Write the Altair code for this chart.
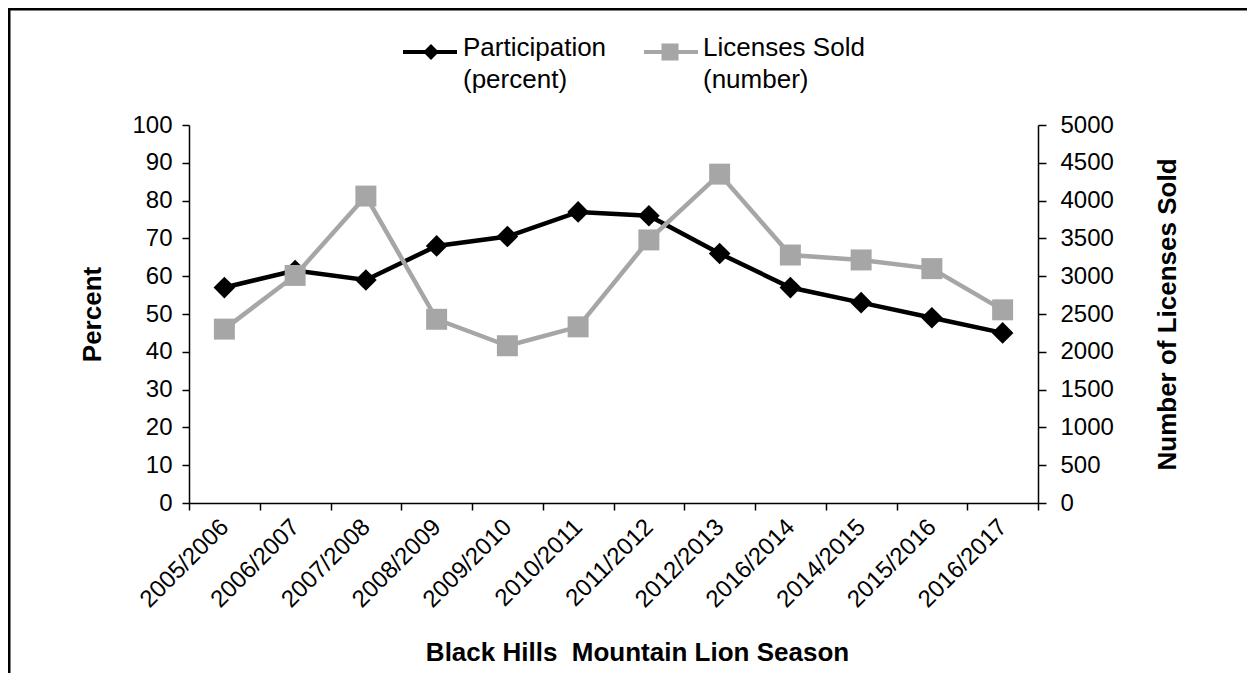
import altair as alt
import pandas as pd

seasons = ["2005/2006", "2006/2007", "2007/2008", "2008/2009", "2009/2010", "2010/2011",
           "2011/2012", "2012/2013", "2016/2014", "2014/2015", "2015/2016", "2016/2017"]
participation = [57, 61.5, 59, 68, 70.5, 77, 76, 66, 57, 53, 49, 45]
licenses = [2300, 3010, 4060, 2430, 2080, 2330, 3480, 4350, 3280, 3215, 3100, 2555]
legend_labels = ["Participation\n(percent)", "Licenses Sold\n(number)"]
pct_ticks = list(range(0, 101, 10))
lic_ticks = list(range(0, 5001, 500))
x_title = "Black Hills\u00a0 Mountain Lion Season"

df = pd.DataFrame({"season": seasons, "participation": participation, "licenses": licenses})

FONT = "Liberation Sans"
W, H = 849, 378
LBL = 24
XLBL = 24
TTL = 26
BLACK = "#000000"
GRAY = "#A6A6A6"

x_enc = alt.X(
    "season:N", sort=seasons, bandPosition=0.5,
    scale=alt.Scale(type="band", paddingInner=0, paddingOuter=0),
    axis=alt.Axis(title=x_title, labelAngle=-45, labelAlign="right",
                  labelBaseline="middle", tickBand="extent", tickSize=7, labelPadding=13,
                  labelFontSize=XLBL, titleFontSize=TTL, titleFontWeight="bold",
                  titleX=448, titleY=149, titleBaseline="middle", titleAlign="center",
                  labelOverlap=False),
)

part = alt.Chart(df).mark_line(
    color=BLACK, strokeWidth=4.5,
    point=alt.OverlayMarkDef(shape="diamond", size=470, filled=True, color=BLACK, opacity=1),
).encode(
    x=x_enc,
    y=alt.Y("participation:Q", scale=alt.Scale(domain=[0, 100], nice=False),
            axis=alt.Axis(orient="left", values=pct_ticks, title="Percent", tickSize=7,
                          labelPadding=10, labelFontSize=LBL, titleFontSize=TTL,
                          titleFontWeight="bold", titleAngle=270, titleX=-97, titleY=H / 2,
                          titleBaseline="middle", titleAlign="center")),
)

lic = alt.Chart(df).mark_line(
    color=GRAY, strokeWidth=4.5,
    point=alt.OverlayMarkDef(shape="square", size=440, filled=True, color=GRAY, opacity=1),
).encode(
    x=x_enc,
    y=alt.Y("licenses:Q", scale=alt.Scale(domain=[0, 5000], nice=False),
            axis=alt.Axis(orient="right", values=lic_ticks, format="d",
                          title="Number of Licenses Sold", tickSize=8, labelPadding=14,
                          labelFontSize=LBL, titleFontSize=TTL, titleFontWeight="bold",
                          titleAngle=270, titleX=129, titleY=H / 2,
                          titleBaseline="middle", titleAlign="center")),
)

one = alt.Data(values=[{"k": 1}])

frame_top = alt.Chart(one).mark_rule(color=BLACK, strokeWidth=3).encode(
    x=alt.value(-182), x2=alt.value(1070), y=alt.value(-116))
frame_left = alt.Chart(one).mark_rule(color=BLACK, strokeWidth=3).encode(
    x=alt.value(-180), y=alt.value(-118), y2=alt.value(570))

leg1_line = alt.Chart(one).mark_rule(color=BLACK, strokeWidth=4).encode(
    x=alt.value(214), x2=alt.value(268), y=alt.value(-73))
leg1_pt = alt.Chart(one).mark_point(shape="diamond", size=250, filled=True, color=BLACK, opacity=1).encode(
    x=alt.value(242), y=alt.value(-73))
leg1_txt = alt.Chart(alt.Data(values=[{"t": legend_labels[0]}])).mark_text(
    align="left", baseline="alphabetic", lineBreak="\n", lineHeight=32,
    font=FONT, fontSize=26, color=BLACK).encode(
    text="t:N", x=alt.value(274), y=alt.value(-69))

leg2_line = alt.Chart(one).mark_rule(color=GRAY, strokeWidth=4).encode(
    x=alt.value(455), x2=alt.value(509), y=alt.value(-73))
leg2_pt = alt.Chart(one).mark_point(shape="square", size=290, filled=True, color=GRAY, opacity=1).encode(
    x=alt.value(481), y=alt.value(-73))
leg2_txt = alt.Chart(alt.Data(values=[{"t": legend_labels[1]}])).mark_text(
    align="left", baseline="alphabetic", lineBreak="\n", lineHeight=32,
    font=FONT, fontSize=26, color=BLACK).encode(
    text="t:N", x=alt.value(514), y=alt.value(-69))

chart = alt.layer(
    frame_top, frame_left, part, lic,
    leg1_line, leg1_pt, leg1_txt, leg2_line, leg2_pt, leg2_txt,
).resolve_scale(y="independent").properties(
    width=W, height=H,
    autosize=alt.AutoSizeParams(type="none"),
    padding={"left": 181, "top": 117, "right": 209, "bottom": 170},
    background="white",
).configure_view(stroke="transparent").configure_axis(
    grid=False, domainColor=BLACK, tickColor=BLACK, labelColor=BLACK, titleColor=BLACK,
    domainWidth=1.5, tickWidth=1.5, labelFont=FONT, titleFont=FONT,
).configure_text(font=FONT)

chart.save("out.html", embed_options={"renderer": "svg", "actions": False})
